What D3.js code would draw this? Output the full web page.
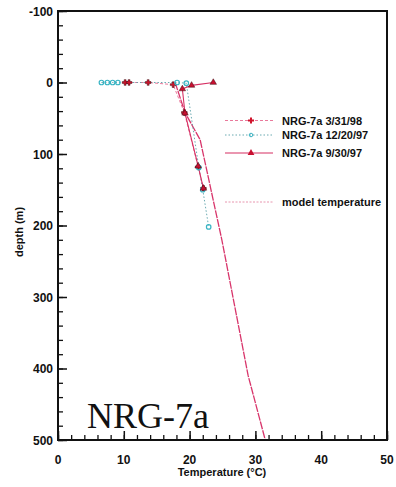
<!DOCTYPE html>
<html>
<head>
<meta charset="utf-8">
<script src="https://cdn.jsdelivr.net/npm/d3@7"></script>
<style>
  html, body { margin: 0; padding: 0; background: #fff; }
  svg { display: block; }
</style>
</head>
<body>
<svg id="chart" width="396" height="487"></svg>
<script>
// Temperature profiles for well NRG-7a: [temperature °C, depth m]
const obs_3_31_98 = [[10.2,0],[10.8,0],[13.7,0],[17.5,3],[19.2,42],[21.3,118],[22.1,148]];
const obs_12_20_97 = [[6.6,0],[7.5,0],[8.3,0],[9.1,0],[18.1,0],[19.5,1],[21.4,119],[22.0,150],[22.9,202]];
const obs_9_30_97 = [[23.6,0],[20.3,4],[18.9,9],[19.3,43],[21.3,117],[22.1,148]];
const modelTemperature = [[17.8,0],[19.3,42],[21.6,80],[24.9,220],[28.9,410],[31.5,500]];

const legendLabels = ["NRG-7a 3/31/98", "NRG-7a 12/20/97", "NRG-7a 9/30/97", "model temperature"];
const xTicks = [0, 10, 20, 30, 40, 50];
const yTicks = [-100, 0, 100, 200, 300, 400, 500];

const svg = d3.select("#chart");
const L = 58, R = 387, T = 11, B = 440;

const x = d3.scaleLinear().domain([0, 50]).range([L, R]);
const y = d3.scaleLinear().domain([-100, 500]).range([T, B]);

const line = d3.line().x(d => x(d[0])).y(d => y(d[1]));

// axes with inward-pointing ticks
const xMinor = d3.range(0, 50.01, 2);
const yMinor = d3.range(-100, 500.01, 20);

svg.append("g").attr("transform", `translate(0,${B})`)
  .call(d3.axisTop(x).tickValues(xMinor).tickSize(5).tickFormat(""))
  .call(g => g.select(".domain").remove())
  .call(g => g.selectAll("line").attr("stroke", "#111").attr("stroke-width", 1.3));
svg.append("g").attr("transform", `translate(0,${B})`)
  .call(d3.axisTop(x).tickValues(xTicks).tickSize(9).tickFormat(""))
  .call(g => g.select(".domain").remove())
  .call(g => g.selectAll("line").attr("stroke", "#111").attr("stroke-width", 1.5));
svg.append("g").attr("transform", `translate(${L},0)`)
  .call(d3.axisRight(y).tickValues(yMinor).tickSize(5).tickFormat(""))
  .call(g => g.select(".domain").remove())
  .call(g => g.selectAll("line").attr("stroke", "#111").attr("stroke-width", 1.3));
svg.append("g").attr("transform", `translate(${L},0)`)
  .call(d3.axisRight(y).tickValues(yTicks).tickSize(9).tickFormat(""))
  .call(g => g.select(".domain").remove())
  .call(g => g.selectAll("line").attr("stroke", "#111").attr("stroke-width", 1.5));

// tick labels
svg.append("g").selectAll("text").data(xTicks).join("text")
  .attr("x", d => x(d)).attr("y", 464)
  .attr("text-anchor", "middle")
  .attr("font-family", "Liberation Sans, Arial, sans-serif")
  .attr("font-weight", "bold").attr("font-size", 12).attr("fill", "#111")
  .text(d => d);
svg.append("g").selectAll("text").data(yTicks).join("text")
  .attr("x", 53).attr("y", d => y(d) + 4.5)
  .attr("text-anchor", "end")
  .attr("font-family", "Liberation Sans, Arial, sans-serif")
  .attr("font-weight", "bold").attr("font-size", 12).attr("fill", "#111")
  .text(d => d);

// axis titles
svg.append("text").attr("x", 222).attr("y", 476).attr("text-anchor", "middle")
  .attr("font-family", "Liberation Sans, Arial, sans-serif")
  .attr("font-weight", "bold").attr("font-size", 11).attr("fill", "#111")
  .text("Temperature (°C)");
svg.append("text").attr("transform", "translate(23,232) rotate(-90)")
  .attr("text-anchor", "middle")
  .attr("font-family", "Liberation Sans, Arial, sans-serif")
  .attr("font-weight", "bold").attr("font-size", 11).attr("fill", "#111")
  .text("depth (m)");

// series
const series = [
  { data: obs_3_31_98, color: "#e66a90", dash: "3,2", width: 0.9, marker: "plus", mcolor: "#d0142c" },
  { data: obs_12_20_97, color: "#5aa0a8", dash: "1.5,2", width: 0.9, marker: "circle", mcolor: "#38b4c4" },
  { data: obs_9_30_97, color: "#d62f63", dash: null, width: 1.1, marker: "triangle", mcolor: "#c81030" }
];

const plot = svg.append("g");

plot.append("path").datum(modelTemperature)
  .attr("d", line).attr("fill", "none")
  .attr("stroke", "#d8356b").attr("stroke-width", 1.3)
  .attr("stroke-dasharray", "8,1");

series.forEach(s => {
  plot.append("path").datum(s.data)
    .attr("d", line).attr("fill", "none")
    .attr("stroke", s.color).attr("stroke-width", s.width)
    .attr("stroke-dasharray", s.dash);
});

const symbolOf = { plus: d3.symbolCross, circle: d3.symbolCircle, triangle: d3.symbolTriangle };

series.forEach(s => {
  const sym = d3.symbol().type(symbolOf[s.marker]).size(s.marker === "circle" ? 16 : 18);
  plot.append("g").selectAll("path").data(s.data).join("path")
    .attr("transform", d => `translate(${x(d[0])},${y(d[1])})`)
    .attr("d", sym)
    .attr("fill", s.marker === "circle" ? "none" : s.mcolor)
    .attr("stroke", s.marker === "circle" ? s.mcolor : "#3a0a10")
    .attr("stroke-width", s.marker === "circle" ? 1.2 : 0.5);
});

// legend
const legendY = [120.5, 135, 153, 202];
const lg = svg.append("g");
const legendStyles = [...series, { color: "#e58aa6", dash: "2,1.5", width: 0.9, marker: null }];
legendStyles.forEach((s, i) => {
  const yy = legendY[i];
  lg.append("line").attr("x1", 225).attr("x2", 273).attr("y1", yy).attr("y2", yy)
    .attr("stroke", s.color).attr("stroke-width", s.width)
    .attr("stroke-dasharray", s.dash);
  if (s.marker) {
    lg.append("path").attr("transform", `translate(251,${yy})`)
      .attr("d", d3.symbol().type(symbolOf[s.marker]).size(s.marker === "circle" ? 10 : 20))
      .attr("fill", s.marker === "circle" ? "none" : s.mcolor)
      .attr("stroke", s.marker === "circle" ? s.mcolor : "none")
      .attr("stroke-width", 1);
  }
  lg.append("text").attr("x", 282).attr("y", yy + 4)
    .attr("font-family", "Liberation Sans, Arial, sans-serif")
    .attr("font-weight", "bold").attr("font-size", 11).attr("fill", "#111")
    .text(legendLabels[i]);
});

// well name
svg.append("text").attr("x", 87).attr("y", 428)
  .attr("font-family", "Liberation Serif, Times New Roman, serif")
  .attr("font-size", 36).attr("fill", "#111")
  .text("NRG-7a");

// frame
svg.append("rect").attr("x", L).attr("y", T).attr("width", R - L).attr("height", B - T)
  .attr("fill", "none").attr("stroke", "#111").attr("stroke-width", 2);
</script>
</body>
</html>
